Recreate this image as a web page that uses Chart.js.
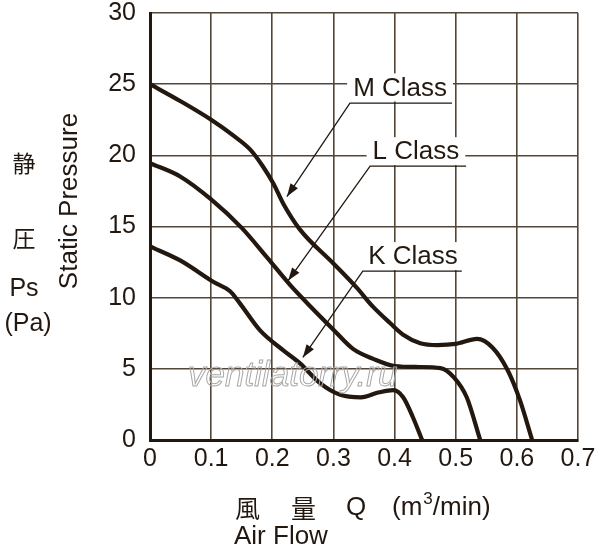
<!DOCTYPE html>
<html>
<head>
<meta charset="utf-8">
<script src="https://cdn.jsdelivr.net/npm/chart.js@4/dist/chart.umd.min.js"></script>
<style>
  body { margin: 0; background: #fff; }
  #wrap { width: 600px; height: 550px; }
</style>
</head>
<body>
<div id="wrap"><canvas id="pqChart" width="600" height="550"></canvas></div>
<script>
// Air flow (m3/min) and static pressure (Pa)
var flowM = [0, 0.05, 0.1, 0.136, 0.164, 0.185, 0.202, 0.218, 0.245, 0.3, 0.338, 0.365, 0.393, 0.414, 0.442, 0.47, 0.5, 0.535, 0.56, 0.585, 0.605, 0.625];
var pressM = [25, 23.8, 22.5, 21.4, 20.4, 19.2, 18.0, 16.6, 14.8, 12.4, 10.7, 9.35, 8.2, 7.4, 6.8, 6.67, 6.75, 7.1, 6.5, 4.9, 2.8, 0];

var flowL = [0, 0.05, 0.1, 0.15, 0.19, 0.229, 0.262, 0.3, 0.332, 0.365, 0.4, 0.44, 0.475, 0.497, 0.518, 0.54];
var pressL = [19.45, 18.5, 16.9, 14.9, 12.9, 10.9, 9.4, 7.75, 6.4, 5.7, 5.2, 5.13, 5.05, 4.4, 3.0, 0];

var flowK = [0, 0.05, 0.104, 0.131, 0.147, 0.18, 0.218, 0.245, 0.278, 0.31, 0.345, 0.375, 0.398, 0.414, 0.43, 0.445];
var pressK = [13.6, 12.6, 11.1, 10.45, 9.6, 7.7, 6.3, 5.4, 4.0, 3.2, 3.0, 3.35, 3.5, 3.0, 1.6, 0];

var xTicks = [0, 0.1, 0.2, 0.3, 0.4, 0.5, 0.6, 0.7];
var yTicks = [0, 5, 10, 15, 20, 25, 30];

// class labels with leader arrows, in data units
var classLabels = [
  { text: 'M Class', x: 0.409, y: 24.7, lineX0: 0.327, lineX1: 0.494, lineY: 23.67, tipX: 0.224, tipY: 17.1 },
  { text: 'L Class', x: 0.435, y: 20.22, lineX0: 0.36, lineX1: 0.517, lineY: 19.24, tipX: 0.226, tipY: 11.2 },
  { text: 'K Class', x: 0.43, y: 12.85, lineX0: 0.348, lineX1: 0.51, lineY: 11.87, tipX: 0.25, tipY: 5.8 }
];

var ink = '#221810';
var gridInk = '#534636';
var sans = "'Liberation Sans', Arial, 'Noto Sans CJK JP', sans-serif";
var cjk = "'Noto Sans CJK JP', 'Liberation Sans', sans-serif";

function toPoints(xs, ys) {
  return xs.map(function(x, i) { return { x: x, y: ys[i] }; });
}

function curve(label, xs, ys) {
  return {
    label: label,
    data: toPoints(xs, ys),
    borderColor: ink,
    borderWidth: 4.2,
    pointRadius: 0,
    cubicInterpolationMode: 'monotone',
    fill: false
  };
}

var labelPlugin = {
  id: 'classLabels',
  beforeDatasetsDraw: function(chart) {
    var ctx = chart.ctx;
    var xs = chart.scales.x, ys = chart.scales.y;
    ctx.save();
    ctx.font = '26px ' + sans;
    classLabels.forEach(function(a) {
      var cx = xs.getPixelForValue(a.x), cy = ys.getPixelForValue(a.y);
      var w = ctx.measureText(a.text).width;
      ctx.fillStyle = '#fff';
      ctx.fillRect(cx - w / 2 - 6, cy - 15, w + 12, 28);
      ctx.fillStyle = ink;
      ctx.textAlign = 'center';
      ctx.textBaseline = 'middle';
      ctx.fillText(a.text, cx, cy);

      var lx0 = xs.getPixelForValue(a.lineX0), lx1 = xs.getPixelForValue(a.lineX1);
      var ly = ys.getPixelForValue(a.lineY);
      var tx = xs.getPixelForValue(a.tipX), ty = ys.getPixelForValue(a.tipY);
      ctx.strokeStyle = ink;
      ctx.lineWidth = 1.3;
      ctx.beginPath();
      ctx.moveTo(lx1, ly);
      ctx.lineTo(lx0, ly);
      ctx.lineTo(tx, ty);
      ctx.stroke();

      // arrow head
      var ang = Math.atan2(ty - ly, tx - lx0);
      var len = 13, half = 4.5;
      ctx.beginPath();
      ctx.moveTo(tx, ty);
      ctx.lineTo(tx - len * Math.cos(ang) + half * Math.sin(ang), ty - len * Math.sin(ang) - half * Math.cos(ang));
      ctx.lineTo(tx - len * Math.cos(ang) - half * Math.sin(ang), ty - len * Math.sin(ang) + half * Math.cos(ang));
      ctx.closePath();
      ctx.fillStyle = ink;
      ctx.fill();
    });
    ctx.restore();
  },
  afterDraw: function(chart) {
    var ctx = chart.ctx;
    ctx.save();
    ctx.fillStyle = ink;
    ctx.textBaseline = 'middle';
    ctx.textAlign = 'center';

    // left side titles
    ctx.font = '23px ' + cjk;
    ctx.fillText('静', 24, 163);
    ctx.fillText('圧', 24, 238);
    ctx.font = '25px ' + sans;
    ctx.fillText('Ps', 24, 289);
    ctx.fillText('(Pa)', 28, 324);

    ctx.save();
    ctx.translate(70, 201);
    ctx.rotate(-Math.PI / 2);
    ctx.font = '26px ' + sans;
    ctx.fillText('Static Pressure', 0, 0);
    ctx.restore();

    // bottom titles
    ctx.textAlign = 'left';
    ctx.font = '25px ' + cjk;
    ctx.fillText('風', 235, 508);
    ctx.fillText('量', 291, 508);
    ctx.font = '26px ' + sans;
    ctx.fillText('Q', 346, 508);
    var px = 392;
    ctx.fillText('(m', px, 508);
    px += ctx.measureText('(m').width;
    ctx.font = '17px ' + sans;
    ctx.fillText('3', px + 1, 499);
    px += ctx.measureText('3').width + 1;
    ctx.font = '26px ' + sans;
    ctx.fillText('/min)', px, 508);
    ctx.fillText('Air Flow', 234, 537);

    // watermark
    ctx.font = 'italic 35px ' + sans;
    ctx.strokeStyle = '#a8a8a8';
    ctx.lineWidth = 1;
    ctx.textBaseline = 'alphabetic';
    ctx.strokeText('ventilatorry.ru', 188, 386);
    ctx.restore();
  }
};

var ctx = document.getElementById('pqChart').getContext('2d');
var pqChart = new Chart(ctx, {
  type: 'line',
  data: {
    datasets: [
      curve('M Class', flowM, pressM),
      curve('L Class', flowL, pressL),
      curve('K Class', flowK, pressK)
    ]
  },
  options: {
    responsive: false,
    animation: false,
    devicePixelRatio: 1,
    layout: { padding: { top: 13, right: 22, left: 0, bottom: 0 } },
    plugins: { legend: { display: false }, tooltip: { enabled: false } },
    scales: {
      x: {
        type: 'linear',
        min: 0,
        max: 0.7,
        afterFit: function(s) { s.height = 110; s.paddingLeft = 0; s.paddingRight = 0; },
        afterBuildTicks: function(s) { s.ticks = xTicks.map(function(v) { return { value: v }; }); },
        ticks: { color: ink, font: { family: sans, size: 25 }, padding: 4, maxRotation: 0,
                 callback: function(v) { return String(v); } },
        grid: { color: gridInk, lineWidth: 1.6, drawTicks: false },
        border: { color: ink, width: 3 }
      },
      y: {
        min: 0,
        max: 30,
        afterFit: function(s) { s.width = 150; s.paddingTop = 0; s.paddingBottom = 0; },
        afterBuildTicks: function(s) { s.ticks = yTicks.map(function(v) { return { value: v }; }); },
        ticks: { color: ink, font: { family: sans, size: 25 }, padding: 14 },
        grid: { color: gridInk, lineWidth: 1.6, drawTicks: false },
        border: { color: ink, width: 3 }
      }
    }
  },
  plugins: [labelPlugin]
});
</script>
</body>
</html>
